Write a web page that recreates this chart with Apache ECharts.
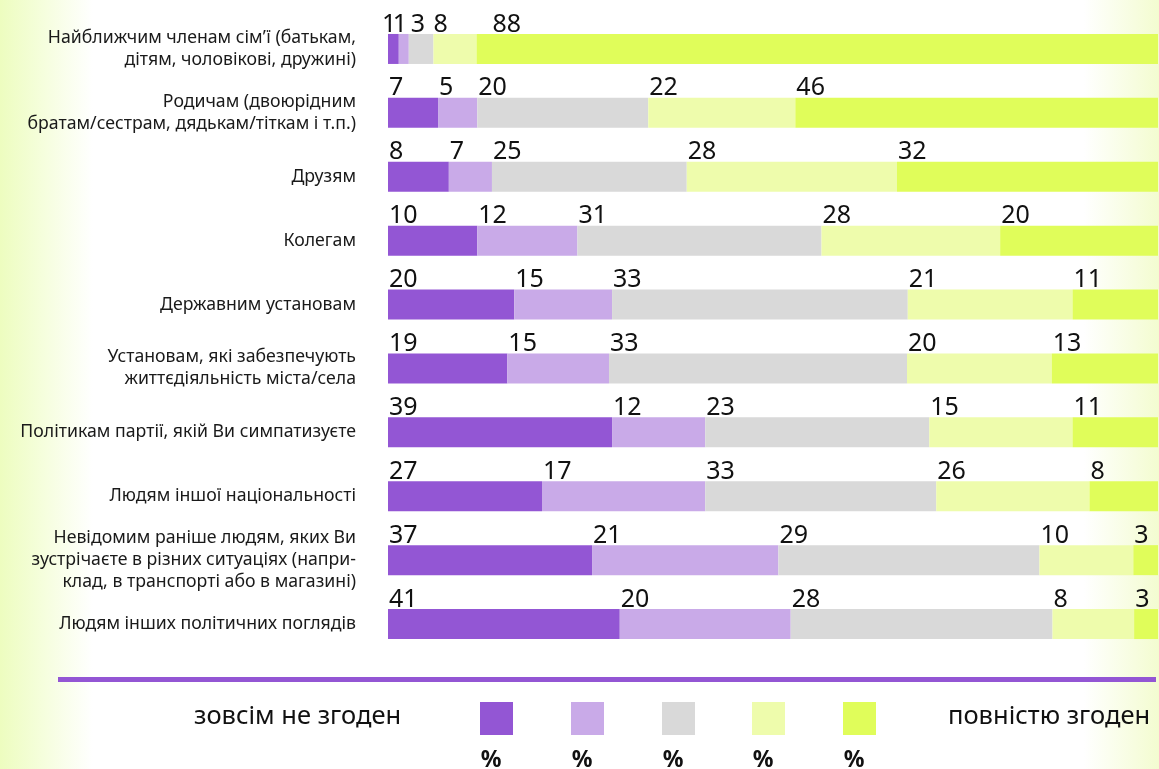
<!DOCTYPE html>
<html>
<head>
<meta charset="utf-8">
<script src="https://cdn.jsdelivr.net/npm/echarts@6/dist/echarts.min.js"></script>
<style>
  html, body { margin: 0; padding: 0; background: #fff; }
  #chart { width: 1159px; height: 769px; }
</style>
</head>
<body>
<div id="chart"></div>
<script>
  // categories, top to bottom
  var categories = [
    'Найближчим членам сім’ї (батькам,\nдітям, чоловікові, дружині)',
    'Родичам (двоюрідним\nбратам/сестрам, дядькам/тіткам і т.п.)',
    'Друзям',
    'Колегам',
    'Державним установам',
    'Установам, які забезпечують\nжиттєдіяльність міста/села',
    'Політикам партії, якій Ви симпатизуєте',
    'Людям іншої національності',
    'Невідомим раніше людям, яких Ви\nзустрічаєте в різних ситуаціях (напри-\nклад, в транспорті або в магазині)',
    'Людям інших політичних поглядів'
  ];

  // bar lengths (share of the row)
  var disagreeFully = [1.4, 6.5, 7.9, 11.6, 16.4, 15.5, 29.1, 20.0, 26.5, 30.1];
  var disagree      = [1.3, 5.1, 5.6, 13.0, 12.7, 13.2, 12.1, 21.2, 24.2, 22.2];
  var neutral       = [3.2, 22.2, 25.3, 31.7, 38.4, 38.7, 29.1, 30.0, 33.9, 34.0];
  var agree         = [5.6, 19.1, 27.3, 23.2, 21.4, 18.8, 18.6, 19.9, 12.2, 10.6];
  var agreeFully    = [88.5, 47.1, 33.9, 20.5, 11.1, 13.8, 11.1, 8.9, 3.2, 3.1];

  // numbers printed above the bars
  var disagreeFullyLbl = [1, 7, 8, 10, 20, 19, 39, 27, 37, 41];
  var disagreeLbl      = [1, 5, 7, 12, 15, 15, 12, 17, 21, 20];
  var neutralLbl       = [3, 20, 25, 31, 33, 33, 23, 33, 29, 28];
  var agreeLbl         = [8, 22, 28, 28, 21, 20, 15, 26, 10, 8];
  var agreeFullyLbl    = [88, 46, 32, 20, 11, 13, 11, 8, 3, 3];

  var legendLeft = 'зовсім не згоден';
  var legendRight = 'повністю згоден';
  var legendUnit = '%';

  var colors = ['#9356d4', '#c9aae8', '#d9d9d9', '#eefcac', '#e0fd5a'];
  var values = [disagreeFully, disagree, neutral, agree, agreeFully];
  var labels = [disagreeFullyLbl, disagreeLbl, neutralLbl, agreeLbl, agreeFullyLbl];

  var font = '"Noto Sans", sans-serif';

  var series = values.map(function (vals, s) {
    return {
      type: 'bar',
      stack: 'all',
      barWidth: 30,
      itemStyle: { color: colors[s] },
      label: {
        show: true,
        position: [1, 3],
        align: 'left',
        verticalAlign: 'bottom',
        fontFamily: font,
        fontSize: 25,
        color: '#111',
        formatter: function (p) { return labels[s][p.dataIndex]; }
      },
      data: vals
    };
  });
  // row 1: the crowded labels are nudged in the original
  var firstRowShift = [-6, -6, 2, 0, 16];
  series.forEach(function (s, k) {
    s.data = s.data.map(function (v, i) {
      return i === 0 ? { value: v, label: { position: [firstRowShift[k], 3] } } : v;
    });
  });

  var graphics = [
    { type: 'rect', shape: { x: 58, y: 677, width: 1098, height: 5 }, style: { fill: colors[0] } },
    { type: 'text', left: 194, top: 704, style: { text: legendLeft, font: '25.5px ' + font, fill: '#111' } },
    { type: 'text', left: 948, top: 704, style: { text: legendRight, font: '25.5px ' + font, fill: '#111' } }
  ];
  var sqX = [480, 571, 662, 752, 843];
  colors.forEach(function (c, i) {
    graphics.push({ type: 'rect', shape: { x: sqX[i], y: 702, width: 33, height: 33 }, style: { fill: c } });
    graphics.push({
      type: 'text', x: sqX[i] + 11, y: 760,
      style: { text: legendUnit, font: 'bold 23px ' + font, fill: '#111', textAlign: 'center', textVerticalAlign: 'middle' }
    });
  });

  var chart = echarts.init(document.getElementById('chart'));
  chart.setOption({
    animation: false,
    backgroundColor: new echarts.graphic.LinearGradient(0, 0, 1, 0, [
      { offset: 0, color: '#edfdbf' },
      { offset: 0.08, color: '#ffffff' },
      { offset: 0.935, color: '#ffffff' },
      { offset: 1, color: '#f3fcd0' }
    ]),
    grid: { left: 388, right: 1, top: 17, height: 639 },
    xAxis: { type: 'value', min: 0, max: 100, show: false },
    yAxis: {
      type: 'category',
      inverse: true,
      data: categories,
      axisLine: { show: false },
      axisTick: { show: false },
      axisLabel: {
        margin: 32,
        fontFamily: font,
        fontSize: 17.7,
        lineHeight: 22,
        color: '#1a1a1a',
        align: 'right'
      }
    },
    series: series,
    graphic: graphics
  });
</script>
</body>
</html>
